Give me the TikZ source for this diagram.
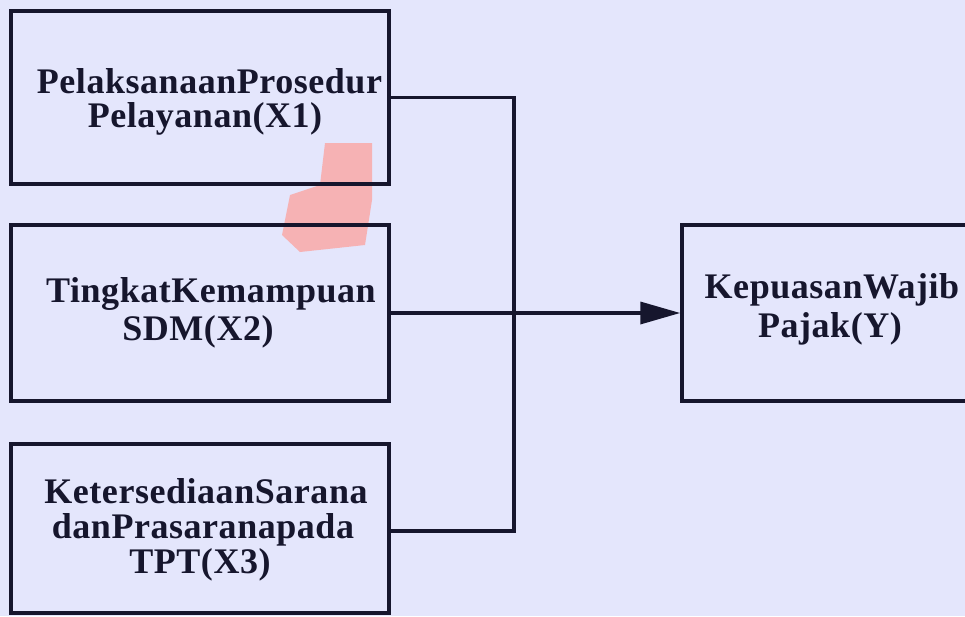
\documentclass[tikz,border=0pt]{standalone}
\usepackage{fontspec}
\setmainfont{Liberation Serif}
\usetikzlibrary{arrows.meta}
\definecolor{ink}{RGB}{22,22,45}
\definecolor{wash}{RGB}{228,230,252}
\definecolor{blob}{RGB}{246,178,180}
\tikzset{
  box/.style={draw=ink, line width=3.5pt, rectangle, inner sep=0pt},
  lbl/.style={font=\fontsize{36}{36}\selectfont\rmfamily\bfseries\addfontfeature{LetterSpace=1.5}, text=ink, anchor=base, inner sep=0pt},
  conn/.style={draw=ink, line width=3.5pt},
  arr/.style={conn, -{Triangle[length=40pt,width=22pt]}}
}
\begin{document}
\begin{tikzpicture}[x=1pt,y=-1pt]
\useasboundingbox (0,0) rectangle (965,616);
\clip (0,0) rectangle (965,616);
\fill[wash] (0,0) rectangle (965,616);
\fill[blob] (325,143) -- (372,143) -- (372,200) -- (365,245) -- (300,252) -- (282,235) -- (290,195) -- (320,185) -- cycle;

% boxes
\node[box, minimum width=378pt, minimum height=173pt] (X1) at (200,97.5) {};
\node[box, minimum width=378pt, minimum height=176pt] (X2) at (200,313) {};
\node[box, minimum width=378pt, minimum height=169pt] (X3) at (200,528.5) {};
\node[box, minimum width=298pt, minimum height=176pt] (Y) at (831,313) {};

% labels
\node[lbl] (l11) at (209.5,93) {PelaksanaanProsedur};
\node[lbl] (l12) at (205,127) {Pelayanan(X1)};
\node[lbl] (l21) at (211,302) {TingkatKemampuan};
\node[lbl] (l22) at (198,340) {SDM(X2)};
\node[lbl] (l31) at (206,503) {KetersediaanSarana};
\node[lbl] (l32) at (203,538) {danPrasaranapada};
\node[lbl] (l33) at (200,573) {TPT(X3)};
\node[lbl] (l41) at (832,298) {KepuasanWajib};
\node[lbl] (l42) at (830,337) {Pajak(Y)};

% connectors
\coordinate (J) at (514,313);
\coordinate (X3out) at ([yshift=-2.5pt]X3.east);
\draw[conn] (X1.east) -| (J);
\draw[conn] (X3out) -| (J);
\draw[arr] (X2.east) -- (Y.west);
\end{tikzpicture}
\end{document}
